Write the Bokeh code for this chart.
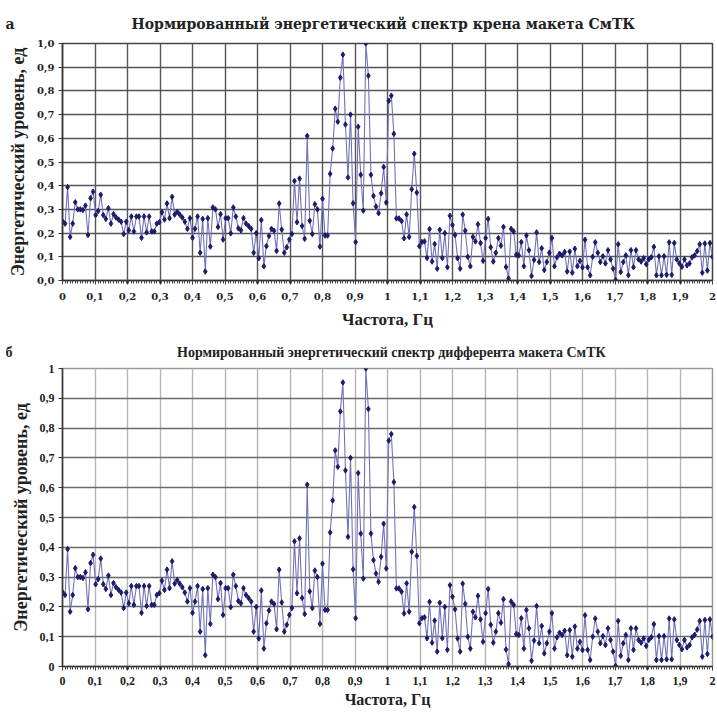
from bokeh.plotting import figure
from bokeh.layouts import column
from bokeh.models import ColumnDataSource, FixedTicker, Range1d, Title
from bokeh.embed import file_html
from bokeh.resources import INLINE

# Normalised energy spectrum (same record shown in both panels)
roll_level = [
    0.25, 0.24, 0.394, 0.184, 0.24, 0.33, 0.30, 0.30, 0.297, 0.316, 0.192, 0.347, 0.375,
    0.276, 0.293, 0.362, 0.276, 0.26, 0.305, 0.24, 0.28, 0.266, 0.257, 0.248, 0.196, 0.248,
    0.212, 0.27, 0.207, 0.27, 0.27, 0.18, 0.27, 0.203, 0.27, 0.207, 0.207, 0.24, 0.246,
    0.288, 0.257, 0.325, 0.263, 0.353, 0.278, 0.29, 0.278, 0.266, 0.248, 0.218, 0.263,
    0.18, 0.218, 0.27, 0.117, 0.26, 0.038, 0.263, 0.143, 0.308, 0.30, 0.226, 0.28, 0.173,
    0.263, 0.263, 0.199, 0.308, 0.27, 0.22, 0.212, 0.263, 0.24, 0.23, 0.218, 0.117, 0.20,
    0.094, 0.255, 0.06, 0.145, 0.188, 0.218, 0.21, 0.125, 0.325, 0.215, 0.117, 0.14, 0.173,
    0.196, 0.42, 0.246, 0.43, 0.23, 0.176, 0.61, 0.252, 0.196, 0.322, 0.30, 0.143,
    0.345, 0.19, 0.19, 0.45, 0.557, 0.725, 0.67, 0.856, 0.953, 0.658, 0.435, 0.70, 0.326,
    0.162, 0.649, 0.446, 0.295, 1.0, 0.864, 0.446, 0.357, 0.312, 0.284, 0.368, 0.479, 0.329,
    0.758, 0.78, 0.619, 0.262, 0.262, 0.251, 0.178, 0.279, 0.184, 0.385, 0.535, 0.371, 0.145,
    0.162, 0.165, 0.095, 0.217, 0.08, 0.154, 0.05, 0.214, 0.095, 0.20, 0.056, 0.273, 0.234,
    0.192, 0.094, 0.05, 0.278, 0.21, 0.10, 0.06, 0.184, 0.165, 0.237, 0.158, 0.083, 0.179,
    0.26, 0.14, 0.08, 0.117, 0.179, 0.147, 0.226, 0.057, 0.008, 0.218, 0.207, 0.109,
    0.106, 0.162, 0.06, 0.19, 0.128, 0.019, 0.087, 0.203, 0.078, 0.136, 0.044, 0.078, 0.117,
    0.179, 0.06, 0.098, 0.113, 0.106, 0.12, 0.038, 0.122, 0.033, 0.134, 0.06, 0.083, 0.055,
    0.172, 0.056, 0.022, 0.10, 0.161, 0.117, 0.078, 0.102, 0.072, 0.128, 0.089, 0.05, 0.002,
    0.153, 0.036, 0.078, 0.106, 0.022, 0.128, 0.056, 0.128, 0.089, 0.08, 0.094, 0.069, 0.089,
    0.098, 0.142, 0.022, 0.102, 0.022, 0.102, 0.024, 0.161, 0.024, 0.158, 0.089, 0.072, 0.058,
    0.089, 0.064, 0.072, 0.098, 0.106, 0.124, 0.153, 0.033, 0.156, 0.042, 0.158, 0.10,
]
trim_level = list(roll_level)

freq_max = 2.0
freq_step = freq_max / (len(roll_level) - 1)
freq = [i * freq_step for i in range(len(roll_level))]

x_ticks = [0, 0.1, 0.2, 0.3, 0.4, 0.5, 0.6, 0.7, 0.8, 0.9, 1, 1.1, 1.2, 1.3, 1.4,
           1.5, 1.6, 1.7, 1.8, 1.9, 2]
x_tick_labels = ["0", "0,1", "0,2", "0,3", "0,4", "0,5", "0,6", "0,7", "0,8", "0,9", "1",
                 "1,1", "1,2", "1,3", "1,4", "1,5", "1,6", "1,7", "1,8", "1,9", "2"]
y_ticks = [0, 0.1, 0.2, 0.3, 0.4, 0.5, 0.6, 0.7, 0.8, 0.9, 1]
y_tick_labels_a = ["0,0", "0,1", "0,2", "0,3", "0,4", "0,5", "0,6", "0,7", "0,8", "0,9", "1,0"]
y_tick_labels_b = ["0", "0,1", "0,2", "0,3", "0,4", "0,5", "0,6", "0,7", "0,8", "0,9", "1"]

title_a = "Нормированный энергетический спектр крена макета СмТК"
title_b = "Нормированный энергетический спектр дифферента макета СмТК"
x_label = "Частота, Гц"
y_label = "Энергетический уровень, ед"

LINE_COLOR = "#7272b8"
MARK_COLOR = "#1c1c6a"
NBSP = "\u00a0"


def make_panel(level, title, letter, gap, y_labels, height, top, bottom, font,
               tick_size, title_size, title_standoff, vgrid_color, hgrid_color,
               outline_color, tick_standoff, xlabel_standoff, xlabel_size):
    p = figure(width=717, height=height, output_backend="svg", toolbar_location=None,
               x_range=Range1d(0, freq_max), y_range=Range1d(0, 1), title=None,
               min_border_left=62, min_border_right=5, min_border_top=top,
               min_border_bottom=bottom)
    p.background_fill_color = "white"
    p.border_fill_color = "white"
    p.outline_line_color = outline_color
    p.outline_line_width = 1.5

    p.xaxis.ticker = FixedTicker(ticks=x_ticks, minor_ticks=freq)
    p.yaxis.ticker = FixedTicker(ticks=y_ticks)
    p.xaxis.major_label_overrides = dict(zip(x_ticks, x_tick_labels))
    p.yaxis.major_label_overrides = dict(zip(y_ticks, y_labels))

    for ax in (p.xaxis[0], p.yaxis[0]):
        ax.axis_line_color = "#333333"
        ax.axis_line_width = 1.5
        ax.major_tick_line_color = "#333333"
        ax.major_tick_in = 0
        ax.major_tick_out = 4
        ax.major_label_text_font = font
        ax.major_label_text_font_style = "bold"
        ax.major_label_text_font_size = tick_size
        ax.major_label_text_color = "#222222"
        ax.axis_label_text_font_style = "bold"
        ax.axis_label_text_color = "#222222"
    p.xaxis.minor_tick_line_color = "#444444"
    p.xaxis.minor_tick_in = 0
    p.xaxis.minor_tick_out = 3
    p.yaxis.minor_tick_line_color = None
    p.xaxis.major_label_standoff = tick_standoff
    p.yaxis.major_label_standoff = 4
    p.xaxis.axis_label = x_label
    p.yaxis.axis_label = y_label
    p.xaxis.axis_label_text_font = "Liberation Serif"
    p.xaxis.axis_label_text_font_size = xlabel_size
    p.yaxis.axis_label_text_font = "Liberation Serif"
    p.yaxis.axis_label_text_font_size = "18px"
    p.xaxis.axis_label_standoff = xlabel_standoff
    p.yaxis.axis_label_standoff = 6

    p.xgrid.ticker = FixedTicker(ticks=x_ticks)
    p.ygrid.ticker = FixedTicker(ticks=y_ticks)
    p.xgrid.grid_line_color = vgrid_color
    p.ygrid.grid_line_color = hgrid_color
    p.xgrid.grid_line_width = 1.4
    p.ygrid.grid_line_width = 1.4

    src = ColumnDataSource(dict(f=freq, v=level))
    p.line("f", "v", source=src, line_color=LINE_COLOR, line_width=1.1)
    p.scatter("f", "v", source=src, marker="diamond", size=5.5,
              fill_color=MARK_COLOR, line_color=MARK_COLOR)

    p.add_layout(Title(text=letter + NBSP * gap + title, align="left", offset=-57,
                       standoff=title_standoff, text_font=font,
                       text_font_style="bold", text_font_size=title_size,
                       text_color="#222222"), "above")
    return p


p1 = make_panel(roll_level, title_a, "а", 24, y_tick_labels_a, height=332, top=43,
                bottom=52, font="DejaVu Serif", tick_size="10px", title_size="14px",
                title_standoff=24, vgrid_color="#555555", hgrid_color="#555555",
                outline_color="#444444", tick_standoff=8, xlabel_standoff=7,
                xlabel_size="17px")
p2 = make_panel(trim_level, title_b, "б", 47, y_tick_labels_b, height=381, top=36,
                bottom=47, font="Liberation Serif", tick_size="12px", title_size="14px",
                title_standoff=17, vgrid_color="#b4b4b4", hgrid_color="#6a6a6a",
                outline_color="#999999", tick_standoff=6, xlabel_standoff=3,
                xlabel_size="16px")

layout = column(p1, p2, spacing=0)
open("out.html", "w").write(file_html(layout, INLINE))
